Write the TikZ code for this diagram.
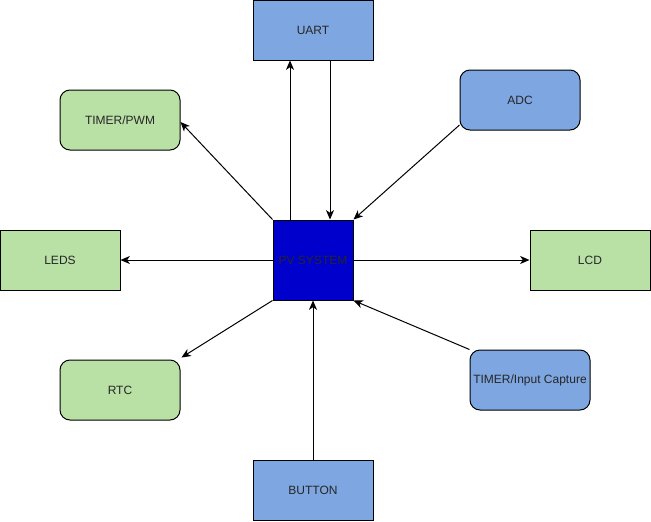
\documentclass[tikz,border=0pt]{standalone}
\usepackage{fontspec}
\setmainfont{Liberation Sans}
\usetikzlibrary{arrows.meta}
\definecolor{bluebox}{HTML}{7EA6E0}
\definecolor{greenbox}{HTML}{B9E0A5}
\definecolor{pvblue}{HTML}{0000CC}
\begin{document}
\begin{tikzpicture}[x=0.75pt,y=-0.75pt,
  box/.style={draw=black,line width=0.75pt,minimum width=90pt,minimum height=45pt,inner sep=0pt,font=\fontsize{9}{11}\selectfont,text=black!85},
  rbox/.style={box,rounded corners=7.5pt},
  bl/.style={fill=bluebox},
  gr/.style={fill=greenbox},
  conn/.style={line width=0.75pt,-{Stealth[length=7pt,width=6pt,inset=2pt]}},
  plain/.style={line width=0.75pt}]
\useasboundingbox (0,0) rectangle (651,522);
\node[box,fill=pvblue,minimum width=60pt,minimum height=60pt] (pv) at (313,260) {PV SYSTEM};
\node[box,bl] (uart) at (313,30) {UART};
\node[rbox,bl] (adc) at (520,100) {ADC};
\node[rbox,gr] (pwm) at (120,120) {TIMER/PWM};
\node[box,gr] (leds) at (60,260) {LEDS};
\node[box,gr] (lcd) at (590,260) {LCD};
\node[rbox,gr] (rtc) at (120,390) {RTC};
\node[rbox,bl] (tic) at (530,380) {TIMER/Input Capture};
\node[box,bl] (btn) at (313,490) {BUTTON};
\draw[conn] ([shift={(-23,0)}]pv.north) -- ([shift={(-23,0)}]uart.south);
\draw[conn] ([shift={(17,0)}]uart.south) -- ([shift={(17,0)}]pv.north);
\draw[conn] ([shift={(0,25)}]adc.west) -- (pv.north east);
\draw[conn] (pv.north west) -- ([shift={(0,2)}]pwm.east);
\draw[conn] (pv.west) -- (leds.east);
\draw[conn] (pv.east) -- (lcd.west);
\draw[conn] (pv.south west) -- ([shift={(1,-2)}]rtc.north east);
\draw[conn] (tic.north west) -- (pv.south east);
\draw[conn] (btn.north) -- (pv.south);
\end{tikzpicture}
\end{document}
